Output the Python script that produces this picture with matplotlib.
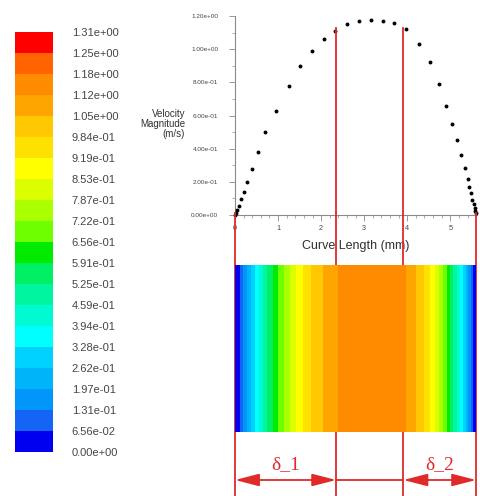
import numpy as np
import matplotlib
matplotlib.use("Agg")
import matplotlib.pyplot as plt
from matplotlib.colors import ListedColormap, BoundaryNorm
from matplotlib import transforms
from matplotlib.patches import FancyArrowPatch
import matplotlib.colorbar as mcolorbar

# ---------------- data ----------------
curve_length = [0.0, 0.02, 0.05, 0.09, 0.14, 0.20, 0.29, 0.39, 0.53, 0.70, 0.95,
                1.25, 1.52, 1.79, 2.07, 2.33, 2.61, 2.88, 3.15, 3.43, 3.70,
                3.98, 4.27, 4.53, 4.74, 4.91, 5.04, 5.16, 5.26, 5.33, 5.40,
                5.44, 5.48, 5.51, 5.54, 5.57, 5.58, 5.60]
velocity = [0.0, 0.01, 0.03, 0.056, 0.094, 0.14, 0.20, 0.28, 0.38, 0.50, 0.63,
            0.78, 0.90, 0.99, 1.06, 1.11, 1.15, 1.17, 1.175, 1.17, 1.16,
            1.12, 1.03, 0.92, 0.79, 0.66, 0.55, 0.45, 0.36, 0.285, 0.22,
            0.17, 0.13, 0.09, 0.064, 0.04, 0.026, 0.014]
levels = [0.0, 0.0656, 0.131, 0.197, 0.262, 0.328, 0.394, 0.459, 0.525, 0.591,
          0.656, 0.722, 0.787, 0.853, 0.919, 0.984, 1.05, 1.12, 1.18, 1.25, 1.31]
level_labels = ["0.00e+00", "6.56e-02", "1.31e-01", "1.97e-01", "2.62e-01",
                "3.28e-01", "3.94e-01", "4.59e-01", "5.25e-01", "5.91e-01",
                "6.56e-01", "7.22e-01", "7.87e-01", "8.53e-01", "9.19e-01",
                "9.84e-01", "1.05e+00", "1.12e+00", "1.18e+00", "1.25e+00",
                "1.31e+00"]
y_ticks = [0.0, 0.2, 0.4, 0.6, 0.8, 1.0, 1.2]
y_tick_labels = ["0.00e+00", "2.00e-01", "4.00e-01", "6.00e-01", "8.00e-01",
                 "1.00e+00", "1.20e+00"]
x_ticks = [0, 1, 2, 3, 4, 5]
delta_bounds = [0.0, 2.35, 3.91, 5.60]
delta_labels = ["δ_1", "δ_2"]

# ---------------- style ----------------
band_colors = ["#0000f0", "#1464f5", "#0096fa", "#00b4fa", "#00d2ff",
               "#00ffff", "#00fad2", "#00f5a0", "#00f064", "#00eb00",
               "#6eff00", "#aaff00", "#dcff00", "#ffff00", "#ffe100",
               "#ffc800", "#ffa500", "#ff8c00", "#ff6400", "#ff0000"]
cmap = ListedColormap(band_colors)
norm = BoundaryNorm(levels, cmap.N)
RED = "#e02a2a"
GRAY = "#8a8a8a"
TXT = "#454545"
FONT = "Liberation Sans"

W, H = 480, 496
fig = plt.figure(figsize=(W / 100, H / 100), dpi=100)
fig.patch.set_facecolor("white")


def px(l, t, r, b):
    return [l / W, 1 - b / H, (r - l) / W, (b - t) / H]


# colorbar
cax = fig.add_axes(px(15, 32, 53, 452))
cb = mcolorbar.ColorbarBase(cax, cmap=cmap, norm=norm, boundaries=levels,
                            orientation="vertical")
cb.outline.set_visible(False)
cb.set_ticks(levels)
cb.set_ticklabels(level_labels)
cax.tick_params(length=0, pad=13.5, labelsize=8, labelcolor=TXT)
for t in cax.get_yticklabels():
    t.set_fontfamily(FONT)

# profile plot
ax = fig.add_axes(px(235, 16, 477, 215))
ax.plot(curve_length, velocity, "o", color="black", ms=2.8, mec="none",
        clip_on=False, zorder=3)
ax.set_xlim(0, 5.62)
ax.set_ylim(0, 1.2)
for s in ["top", "right"]:
    ax.spines[s].set_visible(False)
for s in ["left", "bottom"]:
    ax.spines[s].set_color(GRAY)
    ax.spines[s].set_linewidth(0.8)
ax.set_yticks(y_ticks)
ax.set_yticklabels(y_tick_labels)
ax.set_yticks(np.arange(0.1, 1.2, 0.2), minor=True)
ax.set_xticks(x_ticks)
ax.set_xticks(np.arange(0.2, 5.6, 0.2), minor=True)
ax.tick_params(which="major", direction="out", length=4, width=0.6,
               color=GRAY, labelsize=4.6, labelcolor=TXT)
ax.tick_params(axis="y", which="major", pad=8)
ax.tick_params(axis="x", which="major", pad=3, labelsize=5.2)
ax.tick_params(which="minor", direction="out", length=2.5, width=0.5,
               color=GRAY)
for t in ax.get_xticklabels() + ax.get_yticklabels():
    t.set_fontfamily(FONT)
ax.set_xlabel("Curve Length (mm)", fontsize=9, family=FONT, color="#303030",
              labelpad=6)
fig.text(185 / W, 1 - 124 / H, "Velocity\nMagnitude\n(m/s)", ha="right",
         va="center", fontsize=7, family=FONT, color="#303030",
         linespacing=1.0)

# contour strip
iax = fig.add_axes(px(235, 265, 477, 432))
xs = np.linspace(0, max(curve_length), 800)
xc = 0.5 * (xs[:-1] + xs[1:])
vs = np.interp(xc, curve_length, velocity)
iax.pcolormesh(xs, [0, 1], vs[np.newaxis, :], cmap=cmap,
               norm=norm, shading="flat")
iax.set_xlim(0, 5.62)
iax.set_ylim(0, 1)
iax.axis("off")

# red guide lines and arrows
tr = transforms.blended_transform_factory(ax.transData, fig.transFigure)
vtop = [1 - 213 / H, 1 - 28 / H, 1 - 28 / H, 1 - 213 / H]
for xb, yt in zip(delta_bounds, vtop):
    ax.plot([xb, xb], [yt, 0], color=RED, lw=1.3, transform=tr,
            clip_on=False, zorder=4)

ya = 1 - 480 / H
ax.plot([delta_bounds[1], delta_bounds[2]], [ya, ya], color=RED, lw=1.3,
        transform=tr, clip_on=False, zorder=4)
for (x0, x1), lab in zip([(delta_bounds[0], delta_bounds[1]),
                          (delta_bounds[2], delta_bounds[3])], delta_labels):
    arr = FancyArrowPatch((x0, ya), (x1, ya), transform=tr,
                          arrowstyle="<|-|>,head_length=1.05,head_width=0.27",
                          mutation_scale=14, color=RED, lw=1.3,
                          shrinkA=0, shrinkB=0, clip_on=False, zorder=4)
    fig.add_artist(arr)
    ax.text((x0 + x1) / 2, 1 - 465 / H, lab, transform=tr, ha="center",
            va="center", color=RED, fontsize=14, family="Liberation Serif")

fig.savefig("out.png", dpi=100, facecolor="white")
